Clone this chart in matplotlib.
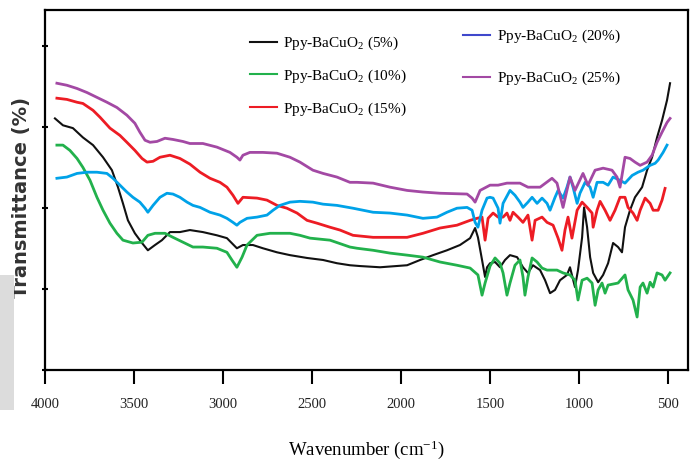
import matplotlib
matplotlib.use("Agg")
import matplotlib.pyplot as plt
from matplotlib.patches import Rectangle

plt.rcParams['font.family'] = ['Liberation Serif', 'DejaVu Serif']
plt.rcParams['mathtext.fontset'] = 'custom'
plt.rcParams['mathtext.rm'] = 'Liberation Serif'
plt.rcParams['mathtext.it'] = 'Liberation Serif:italic'

# Ppy-BaCuO2 (5%)
wn5 = [3944,3899,3843,3787,3730,3674,3624,3590,3562,3534,3495,3455,3422,3382,3343,3298,3242,3186,3113,3034,
       2978,2922,2888,2832,2776,2697,2624,2528,2438,2360,2287,2230,2118,1966,1893,1820,1742,1669,1612,1584,
       1568,1545,1528,1517,1500,1472,1444,1416,1388,1348,1315,1287,1259,1219,1191,1163,1135,1107,1068,1051,
       1023,1006,983,972,955,938,921,893,865,837,809,781,759,742,714,686,646,618,590,562,534,506,489]
tr5 = [62.2,60.5,59.8,57.5,55.6,52.6,49.4,45.2,41.2,37.0,33.8,31.4,29.6,30.9,32.1,34.1,34.1,34.6,34.1,33.3,
       32.6,30.1,30.9,30.9,30.1,29.1,28.4,27.7,27.2,26.4,25.9,25.7,25.4,25.9,27.2,28.4,29.6,30.9,32.6,35.1,
       32.8,27.2,23.0,25.4,26.4,26.7,25.4,27.2,28.4,27.9,25.4,24.0,25.9,24.7,22.2,19.0,19.8,22.2,23.5,25.4,
       20.5,24.7,32.8,40.2,35.3,27.9,24.0,21.7,23.5,26.4,31.4,30.4,29.1,35.3,39.5,42.7,45.2,49.4,52.6,57.5,61.7,66.7,70.9]

# Ppy-BaCuO2 (10%)
wn10 = [3933,3899,3860,3820,3787,3747,3708,3674,3635,3596,3562,3506,3455,3422,3382,3326,3281,3225,3169,3113,
        3034,2978,2950,2922,2893,2865,2809,2736,2624,2568,2511,2399,2287,2247,2157,2062,1966,1877,1781,1686,
        1612,1568,1545,1528,1500,1472,1444,1427,1405,1388,1360,1332,1315,1304,1287,1264,1236,1208,1180,1124,
        1090,1051,1023,1006,983,955,927,910,893,871,854,837,781,742,725,697,674,657,641,618,601,584,562,534,517,489]
tr10 = [55.6,55.6,54.3,52.3,50.1,46.9,42.7,39.5,36.3,33.8,32.1,31.4,31.6,33.3,33.8,33.8,32.8,31.6,30.4,30.4,
        30.1,29.1,27.2,25.4,27.9,30.9,33.3,33.8,33.8,33.3,32.6,32.1,30.4,30.1,29.6,28.9,28.4,27.9,26.7,25.9,
        25.2,23.5,18.5,21.5,25.7,27.7,26.4,24.0,18.5,21.5,25.9,27.2,23.0,18.5,23.0,27.7,26.7,25.2,24.7,24.7,
        24.0,23.5,22.2,17.3,22.2,22.7,21.5,16.0,19.8,21.5,19.0,21.0,21.5,23.5,19.8,17.3,13.1,20.5,21.5,19.0,21.7,20.5,24.0,23.5,22.2,24.0]

# Ppy-BaCuO2 (15%)
wn15 = [3933,3877,3820,3787,3730,3691,3635,3579,3540,3495,3455,3427,3393,3354,3298,3242,3186,3129,3073,3017,
        2978,2944,2916,2888,2809,2753,2697,2641,2584,2528,2472,2399,2343,2270,2157,1966,1877,1781,1686,1612,
        1573,1545,1528,1511,1483,1455,1427,1405,1388,1371,1343,1315,1287,1264,1247,1208,1180,1146,1118,1096,
        1079,1062,1040,1011,983,955,927,921,899,882,854,826,798,770,742,725,697,674,657,629,601,584,556,534,517]
tr15 = [67.2,66.9,66.2,65.9,64.2,62.5,59.8,58.0,56.3,54.3,52.3,51.4,51.6,52.6,53.1,52.3,50.9,48.9,47.4,46.4,
        45.2,43.2,41.2,42.7,42.5,42.0,40.7,40.0,38.8,37.0,36.3,35.3,34.6,33.3,32.8,32.8,33.8,35.1,35.8,37.0,
        37.5,37.8,32.1,37.5,38.8,37.8,37.8,38.8,37.0,39.0,37.8,36.5,38.3,32.1,37.0,37.8,36.5,35.8,32.6,29.6,
        34.6,37.8,32.6,39.5,41.5,40.2,38.8,35.3,39.5,41.7,39.5,37.0,39.5,42.7,42.7,40.2,38.8,37.0,39.5,42.5,41.2,39.5,39.5,42.0,44.9]

# Ppy-BaCuO2 (20%)
wn20 = [3933,3877,3820,3764,3708,3652,3618,3579,3540,3506,3467,3438,3422,3393,3354,3315,3281,3242,3202,3169,
        3129,3073,3017,2978,2944,2922,2905,2865,2809,2753,2719,2680,2624,2568,2495,2438,2360,2270,2157,2062,
        1966,1877,1798,1742,1686,1629,1601,1584,1568,1545,1517,1500,1483,1455,1444,1427,1388,1360,1332,1315,
        1287,1264,1236,1208,1180,1163,1135,1118,1090,1068,1051,1034,1011,995,966,938,921,899,865,837,
        809,770,742,702,669,641,601,573,556,528,506]
tr20 = [47.4,47.7,48.6,48.9,48.9,48.6,47.4,45.7,44.0,42.7,41.5,40.0,39.0,40.7,42.7,43.7,43.5,42.7,41.5,40.7,
        40.2,39.0,38.3,37.5,36.5,35.8,36.5,37.5,37.8,38.3,39.5,40.7,41.5,41.7,41.5,41.0,40.7,40.0,39.0,38.8,
        38.3,37.5,37.8,39.0,40.0,40.2,39.5,36.5,35.3,39.5,42.5,42.7,42.5,40.0,36.3,41.2,44.4,43.2,41.5,40.2,
        41.5,42.7,41.2,42.5,41.2,39.5,42.7,44.4,42.5,45.2,47.7,45.2,41.2,43.7,46.4,45.2,42.7,46.4,46.4,45.7,
        47.7,46.9,46.2,48.1,48.9,49.4,50.6,51.1,51.9,53.8,55.6]

# Ppy-BaCuO2 (25%)
wn25 = [3933,3877,3820,3764,3708,3652,3596,3540,3495,3467,3438,3410,3371,3326,3281,3225,3186,3113,3034,2961,
        2922,2905,2888,2849,2776,2697,2624,2568,2495,2438,2360,2287,2247,2157,2062,1966,1877,1781,1629,1601,
        1584,1556,1500,1455,1405,1332,1287,1219,1152,1124,1090,1051,1023,978,950,910,865,815,787,770,
        742,714,686,657,618,590,562,534,506,489]
tr25 = [70.9,70.4,69.6,68.6,67.4,66.2,64.9,63.0,61.0,58.8,56.8,56.3,56.5,57.3,57.0,56.5,56.0,56.0,55.1,53.8,
        52.6,51.9,53.1,53.8,53.8,53.6,52.6,51.4,49.4,48.6,47.7,46.4,46.4,46.2,45.2,44.4,44.0,43.7,43.5,42.5,
        41.5,44.4,45.7,45.7,46.2,46.2,45.2,45.2,47.4,46.2,40.2,47.7,44.4,48.6,45.7,49.4,49.9,49.4,47.7,45.2,
        52.6,52.3,51.4,50.6,51.4,53.1,56.3,58.8,61.2,62.2]

labels = [r'Ppy-BaCuO$_2$ (5%)', r'Ppy-BaCuO$_2$ (10%)', r'Ppy-BaCuO$_2$ (15%)',
          r'Ppy-BaCuO$_2$ (20%)', r'Ppy-BaCuO$_2$ (25%)']
xticks = [4000, 3500, 3000, 2500, 2000, 1500, 1000, 500]

fig = plt.figure(figsize=(6.94, 4.66), dpi=100)
ax = fig.add_axes([0.0648, 0.206, 0.9266, 0.7725])

l5, = ax.plot(wn5, tr5, color='#111111', lw=1.5, label=labels[0])
l10, = ax.plot(wn10, tr10, color='#22b14c', lw=2.0, label=labels[1])
l15, = ax.plot(wn15, tr15, color='#ed1c24', lw=2.0, label=labels[2])
l20, = ax.plot(wn20, tr20, color='#00a2e8', lw=2.0, label=labels[3])
l25, = ax.plot(wn25, tr25, color='#a349a4', lw=2.0, label=labels[4])

ax.set_xlim(4000, 388)
ax.set_ylim(0, 89)
ax.set_xticks(xticks)
ax.set_xticklabels([str(t) for t in xticks], fontsize=10.5, color='#222222')
ax.set_yticks([0, 20, 40, 60, 80])
ax.set_yticklabels([])
ax.tick_params(axis='x', direction='out', length=10, width=1.5, pad=10)
ax.tick_params(axis='y', direction='inout', length=5, width=1.5)
for s in ax.spines.values():
    s.set_linewidth(1.6)

ax.set_xlabel(r'Wavenumber (cm$^{-1}$)', fontsize=13.5, labelpad=20)
ax.set_ylabel('Transmittance (%)', fontsize=14, fontweight='bold',
              family=['DejaVu Sans'], color='#333333', va='center')
ax.yaxis.set_label_coords(-0.036, 0.48)

leg1 = ax.legend(handles=[l5, l10, l15], loc='upper left', bbox_to_anchor=(0.360, 0.925),
                 bbox_transform=fig.transFigure, frameon=False, fontsize=11,
                 handlelength=1.8, handletextpad=0.4, labelspacing=1.0, borderpad=0, borderaxespad=0)
ax.add_artist(leg1)
leg2 = ax.legend(handles=[l20, l25], loc='upper left', bbox_to_anchor=(0.667, 0.940),
                 bbox_transform=fig.transFigure, frameon=False, fontsize=11,
                 handlelength=1.8, handletextpad=0.4, labelspacing=1.6, borderpad=0, borderaxespad=0)
leg2.legend_handles[0].set_color('#3f48cc')
for h in leg1.legend_handles + leg2.legend_handles:
    h.set_linewidth(1.5)

# grey scan artefact at the lower left edge
fig.patches.append(Rectangle((0, 0.12), 0.02, 0.29, transform=fig.transFigure,
                             facecolor='#dcdcdc', edgecolor='none'))

fig.savefig('out.png', dpi=100)
